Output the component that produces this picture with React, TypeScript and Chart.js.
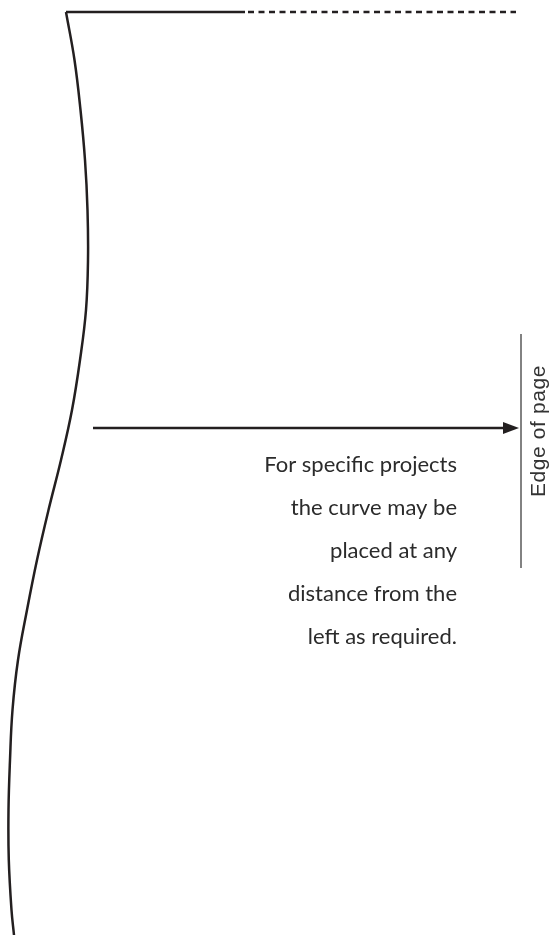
import React, { useEffect, useRef } from "react";
import { Chart, registerables } from "chart.js";

Chart.register(...registerables);

// Curve (page-edge profile): x and y in page pixels
const curveX = [66, 74.5, 80.5, 85, 87.5, 88, 86, 80, 72, 61, 48.5, 37, 27, 18, 12.5, 10, 8.5, 8.8, 11.5, 14];
const curveY = [12, 60, 110, 160, 210, 260, 310, 360, 410, 460, 510, 560, 610, 660, 710, 760, 810, 860, 910, 935];

// Top rule: solid part then dashed continuation
const topSolidX = [66, 245];
const topDashedX = [248, 516];
const topY = 12;

// Arrow
const arrowX = [93, 506];
const arrowY = 428;
const arrowHeadX = 511; // centre of the 16px head, tip at 519

// Edge of page line
const edgeX = 521;
const edgeY = [334, 568];

// Labels
const noteLines = [
  "For specific projects",
  "the curve may be",
  "placed at any",
  "distance from the",
  "left as required.",
];
const noteRightX = 457;
const noteLineY = [465, 508, 551, 594, 637];
const edgeLabel = "Edge of page";
const edgeLabelX = 545;
const edgeLabelY = 431;

const W = 552;
const H = 935;
const INK = "#231f20";

function makeArrowHead(): HTMLCanvasElement {
  const c = document.createElement("canvas");
  c.width = 16;
  c.height = 12;
  const g = c.getContext("2d")!;
  g.fillStyle = INK;
  g.beginPath();
  g.moveTo(0, 0);
  g.lineTo(16, 6);
  g.lineTo(0, 12);
  g.closePath();
  g.fill();
  return c;
}

const labelPlugin = {
  id: "labels",
  afterDraw(chart: any) {
    const { ctx, scales } = chart;
    const xs = scales.x;
    const ys = scales.y;
    ctx.save();
    ctx.fillStyle = "#2b2b2b";
    ctx.font = "22px Lato";
    ctx.textAlign = "right";
    ctx.textBaseline = "middle";
    noteLines.forEach((t, i) => {
      ctx.fillText(t, xs.getPixelForValue(noteRightX), ys.getPixelForValue(noteLineY[i]));
    });
    ctx.restore();

    ctx.save();
    ctx.translate(xs.getPixelForValue(edgeLabelX), ys.getPixelForValue(edgeLabelY));
    ctx.rotate(-Math.PI / 2);
    ctx.fillStyle = "#333333";
    ctx.font = "21px 'Liberation Sans'";
    (ctx as any).letterSpacing = "0.6px";
    ctx.textAlign = "center";
    ctx.textBaseline = "alphabetic";
    ctx.fillText(edgeLabel, 0, 0);
    ctx.restore();
  },
};

export default function App() {
  const ref = useRef<HTMLCanvasElement>(null);
  useEffect(() => {
    document.body.style.margin = "0";
    document.body.style.overflow = "hidden";
    const canvas = ref.current;
    if (!canvas) return;
    const line = (xs: number[], ys: number[]) => xs.map((x, i) => ({ x, y: ys[i] }));
    const chart = new Chart(canvas, {
      type: "scatter",
      data: {
        datasets: [
          {
            data: line(curveX, curveY),
            showLine: true,
            borderColor: INK,
            borderWidth: 2.5,
            tension: 0.4,
            pointRadius: 0,
            clip: false,
          } as any,
          {
            data: line(topSolidX, [topY, topY]),
            showLine: true,
            borderColor: INK,
            borderWidth: 2.5,
            pointRadius: 0,
            clip: false,
          },
          {
            data: line(topDashedX, [topY, topY]),
            showLine: true,
            borderColor: INK,
            borderWidth: 2.3,
            borderDash: [6, 4.5],
            pointRadius: 0,
            clip: false,
          },
          {
            data: line(arrowX, [arrowY, arrowY]),
            showLine: true,
            borderColor: INK,
            borderWidth: 2.5,
            pointRadius: 0,
            clip: false,
          },
          {
            data: [{ x: arrowHeadX, y: arrowY }],
            showLine: false,
            pointStyle: makeArrowHead(),
            radius: 8,
            clip: false,
          } as any,
          {
            data: line([edgeX, edgeX], edgeY),
            showLine: true,
            borderColor: "#5a5a5a",
            borderWidth: 1.5,
            pointRadius: 0,
            clip: false,
          },
        ],
      },
      options: {
        animation: false,
        responsive: false,
        events: [],
        layout: { padding: 0, autoPadding: false },
        plugins: { legend: { display: false }, tooltip: { enabled: false } },
        scales: {
          x: { type: "linear", min: 0, max: W, display: false },
          y: { type: "linear", min: 0, max: H, reverse: true, display: false },
        },
      },
      plugins: [labelPlugin],
    });
    return () => chart.destroy();
  }, []);
  return (
    <div style={{ width: W, height: H, background: "#fff" }}>
      <canvas ref={ref} width={W} height={H} style={{ display: "block" }} />
    </div>
  );
}
